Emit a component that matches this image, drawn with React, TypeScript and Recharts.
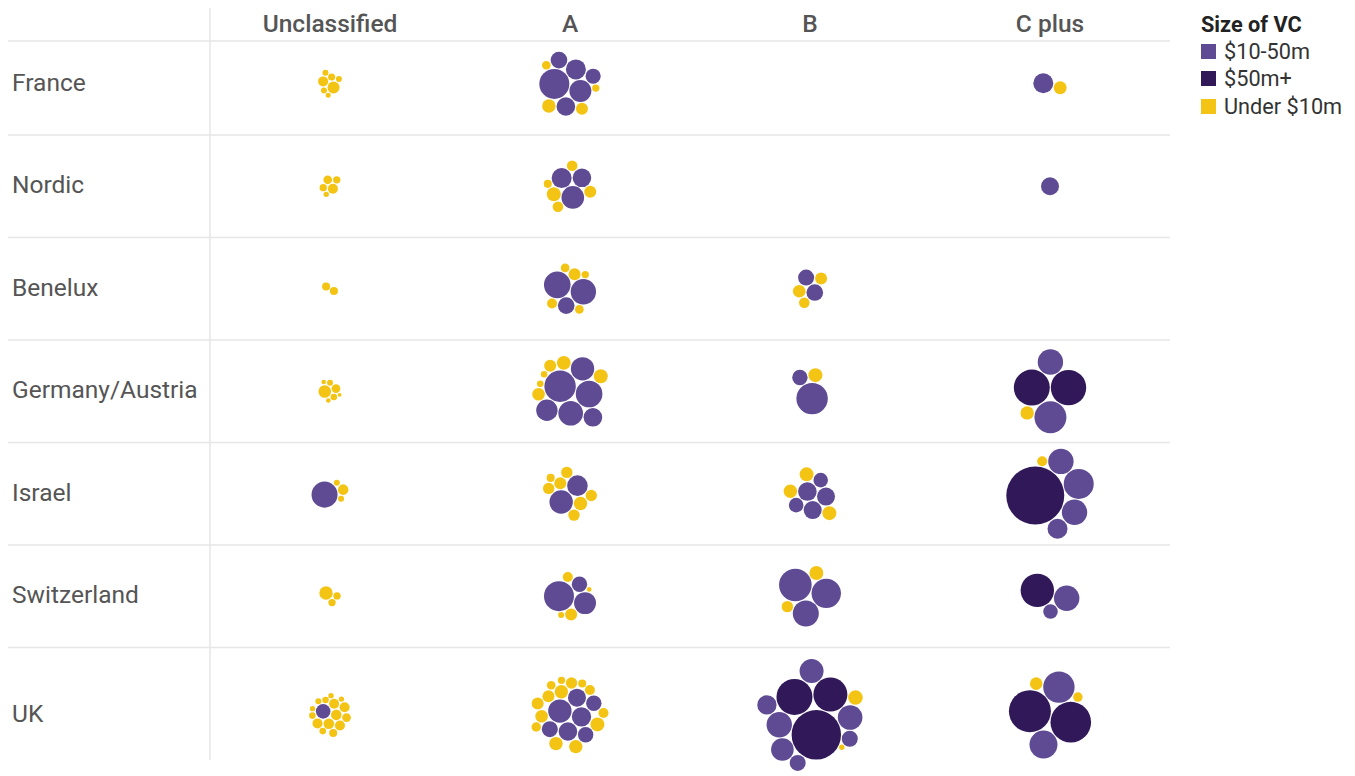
import React from "react";
import {
  ScatterChart,
  Scatter,
  XAxis,
  YAxis,
  ReferenceLine,
  Legend,
} from "recharts";

const ROWS = ["France", "Nordic", "Benelux", "Germany/Austria", "Israel", "Switzerland", "UK"];
const STAGES = ["Unclassified", "A", "B", "C plus"];
const BANDS = ["$10-50m", "$50m+", "Under $10m"];
const BAND_COLORS = ["#5f4a94", "#301859", "#f4c414"];

// amounts raised ($m), one list per row × stage
const midFunds: number[][][] = [
  [[], [25, 13.4, 11.1, 9.6, 7.7, 6.3], [], [11.1]],
  [[], [14.2, 11.1, 9.6], [], [9]],
  [[], [19.7, 17.9, 7.7], [7.7, 7.1], []],
  [[], [27.4, 19.7, 16.8, 15.2, 12.7, 9.6], [27.4, 6.6], [28.4, 17.9]],
  [[18.8], [15.2, 11.8], [9.6, 9, 9, 5.9, 5.9], [25, 17.9, 17.9, 11.1]],
  [[], [25, 13.4, 6.6], [29.5, 24, 18.8], [17.9, 5.9]],
  [[5.9], [15.2, 10.4, 9.6, 9, 7.1, 6.6, 6.6], [17.9, 16.8, 16, 14.2, 10.4, 7.1, 7.1], [27.4, 21.8]],
];

const largeFunds: number[][][] = [
  [[], [], [], []],
  [[], [], [], []],
  [[], [], [], []],
  [[], [], [], [36, 34.8]],
  [[], [], [], [93.4]],
  [[], [], [], [31]],
  [[], [], [67.8, 36, 32.1], [49, 45.8]],
];

const smallFunds: number[][][] = [
  [[4, 2.8, 1.4, 1, 1, 1, 0.7], [5, 4, 2.1, 1.5], [], [4.7]],
  [[2.8, 2.1, 1.5, 1.5, 0.8], [5.4, 4, 3.1, 3.1, 1.8], [], []],
  [[1.8, 1.8], [4, 2.8, 2.1, 2.1, 1.5], [4.4, 4, 3.1], []],
  [[4.4, 2.1, 1.2, 1, 0.6, 0.6, 0.4], [5.4, 5.4, 4.4, 4, 1.2, 1.2], [5.4], [5]],
  [[3.1, 1, 1], [5, 4, 3.6, 3.6, 3.6, 3.6, 1.8], [5.4, 5.4, 5], [2.8]],
  [[5, 1.5, 1.5], [4, 2.8, 1, 0.6], [5.4, 3.6], []],
  [
    [3.1, 3.1, 2.8, 2.8, 2.8, 2.8, 2.1, 1.8, 1.2, 1.2, 1.2, 1, 0.8, 0.8, 0.8],
    [5.4, 5, 5, 5, 4.4, 4, 4, 3.6, 2.8, 2.8, 2.5, 2.1, 1.8, 1.5],
    [5.9, 0.8],
    [4.4, 2.5],
  ],
];

const BAND_VALUES = [midFunds, largeFunds, smallFunds];

// layout
const WIDTH = 1355;
const HEIGHT = 776;
const TOP = 8;
const LEFT = 8;
const LABEL_COL = 202; // px before the first stage column
const COL_PX = 240;
const HEADER_H = 24.5;
const HEADER_LINE = 33;
const ROW_HEIGHTS = [102.5, 102.5, 102.5, 102.5, 102.5, 102.5, 135];
const FONT = "Roboto, 'Noto Sans', sans-serif";

const rowStarts: number[] = [];
ROW_HEIGHTS.reduce((acc, h) => {
  rowStarts.push(acc);
  return acc + h;
}, HEADER_H);
const rowCenters = rowStarts.map((s, i) => s + ROW_HEIGHTS[i] / 2);

const radiusOf = (v: number) => 3 * Math.sqrt(v);

// greedy circle packing: biggest first, each next one at the tangent spot
// closest to the weighted centre of what is already placed
function packCircles(radii: number[], pad = 1) {
  const order = radii.map((_, i) => i).sort((a, b) => radii[b] - radii[a]);
  const placed: { x: number; y: number; r: number; i: number }[] = [];
  for (const i of order) {
    const r = radii[i];
    if (!placed.length) {
      placed.push({ x: 0, y: 0, r, i });
      continue;
    }
    let sw = 0, sx = 0, sy = 0;
    placed.forEach((p) => {
      const w = p.r * p.r;
      sw += w;
      sx += p.x * w;
      sy += p.y * w;
    });
    const cx = sx / sw;
    const cy = sy / sw;
    const cands: { x: number; y: number }[] = [];
    placed.forEach((a) => {
      const d = a.r + r + pad;
      for (let k = 0; k < 24; k++) {
        const t = (k * Math.PI * 2) / 24;
        cands.push({ x: a.x + d * Math.cos(t), y: a.y + d * Math.sin(t) });
      }
    });
    for (let m = 0; m < placed.length; m++) {
      for (let n = m + 1; n < placed.length; n++) {
        const a = placed[m];
        const b = placed[n];
        const da = a.r + r + pad;
        const db = b.r + r + pad;
        const dx = b.x - a.x;
        const dy = b.y - a.y;
        const d = Math.hypot(dx, dy);
        if (d === 0 || d > da + db || d < Math.abs(da - db)) continue;
        const l = (da * da - db * db + d * d) / (2 * d);
        const h = Math.sqrt(Math.max(0, da * da - l * l));
        const mx = a.x + (l * dx) / d;
        const my = a.y + (l * dy) / d;
        cands.push({ x: mx - (h * dy) / d, y: my + (h * dx) / d });
        cands.push({ x: mx + (h * dy) / d, y: my - (h * dx) / d });
      }
    }
    let best = cands[0];
    let bestD = Infinity;
    cands.forEach((c) => {
      const ok = placed.every((p) => Math.hypot(c.x - p.x, c.y - p.y) >= p.r + r + pad - 1e-6);
      if (!ok) return;
      const dd = Math.hypot(c.x - cx, c.y - cy);
      if (dd < bestD) {
        bestD = dd;
        best = c;
      }
    });
    placed.push({ x: best.x, y: best.y, r, i });
  }
  let x0 = Infinity, x1 = -Infinity, y0 = Infinity, y1 = -Infinity;
  placed.forEach((p) => {
    x0 = Math.min(x0, p.x - p.r);
    x1 = Math.max(x1, p.x + p.r);
    y0 = Math.min(y0, p.y - p.r);
    y1 = Math.max(y1, p.y + p.r);
  });
  const ox = (x0 + x1) / 2;
  const oy = (y0 + y1) / 2;
  const out: { x: number; y: number }[] = [];
  placed.forEach((p) => (out[p.i] = { x: p.x - ox, y: p.y - oy }));
  return out;
}

type Bubble = { x: number; y: number; r: number; value: number; row: string; stage: string };

const seriesData: Bubble[][] = BANDS.map(() => []);
ROWS.forEach((row, ri) => {
  STAGES.forEach((stage, si) => {
    const items: { band: number; value: number }[] = [];
    BAND_VALUES.forEach((m, bi) => m[ri][si].forEach((v) => items.push({ band: bi, value: v })));
    if (!items.length) return;
    const radii = items.map((it) => radiusOf(it.value));
    const pos = packCircles(radii);
    items.forEach((it, k) => {
      seriesData[it.band].push({
        x: si + 0.5 + pos[k].x / COL_PX,
        y: rowCenters[ri] + pos[k].y,
        r: radii[k],
        value: it.value,
        row,
        stage,
      });
    });
  });
});

const rowLines = [HEADER_LINE, ...rowStarts.slice(1)];

const StageTick = (props: any) => {
  const idx = Math.round(props.payload.value - 0.5);
  return (
    <text x={props.x} y={32} textAnchor="middle" fill="#555" fontSize={24.5} fontWeight={500} fontFamily={FONT}>
      {STAGES[idx]}
    </text>
  );
};

const RowTick = (props: any) => {
  const idx = rowCenters.findIndex((c) => Math.abs(c - props.payload.value) < 0.01);
  return (
    <text x={12} y={props.y} dy="0.28em" textAnchor="start" fill="#555" fontSize={24.5} fontFamily={FONT}>
      {ROWS[idx]}
    </text>
  );
};

const LegendBox = () => (
  <div style={{ fontFamily: FONT, whiteSpace: "nowrap", color: "#333", width: 160 }}>
    <div style={{ fontWeight: 700, fontSize: 21.7, color: "#222", lineHeight: "27px" }}>Size of VC</div>
    {BANDS.map((b, i) => (
      <div key={b} style={{ display: "flex", alignItems: "center", fontSize: 21.7, lineHeight: "27.3px" }}>
        <span
          style={{
            width: 15,
            height: 15,
            flexShrink: 0,
            background: BAND_COLORS[i],
            marginRight: 8,
            display: "inline-block",
          }}
        />
        {b}
      </div>
    ))}
  </div>
);

export default function App() {
  return (
    <div style={{ position: "absolute", left: 0, top: 0, width: WIDTH, height: HEIGHT, background: "#fff" }}>
      <ScatterChart
        width={WIDTH}
        height={HEIGHT}
        margin={{ top: TOP - 1, left: LEFT - 1, right: WIDTH - (LEFT + LABEL_COL + COL_PX * 4), bottom: 0 }}
      >
        <XAxis
          type="number"
          dataKey="x"
          orientation="top"
          height={1}
          domain={[-LABEL_COL / COL_PX, STAGES.length]}
          ticks={STAGES.map((_, i) => i + 0.5)}
          interval={0}
          axisLine={false}
          tickLine={false}
          tick={<StageTick />}
        />
        <YAxis
          type="number"
          dataKey="y"
          width={1}
          reversed
          domain={[0, HEIGHT - TOP]}
          ticks={rowCenters}
          interval={0}
          axisLine={false}
          tickLine={false}
          tick={<RowTick />}
        />
        {rowLines.map((y) => (
          <ReferenceLine key={y} y={y} stroke="#e6e6e6" strokeWidth={1.5} ifOverflow="visible" />
        ))}
        <ReferenceLine
          segment={[
            { x: 0, y: 0 },
            { x: 0, y: 752 },
          ]}
          stroke="#e6e6e6"
          strokeWidth={1.5}
          ifOverflow="visible"
        />
        {BANDS.map((b, i) => (
          <Scatter
            key={b}
            name={b}
            data={seriesData[i]}
            fill={BAND_COLORS[i]}
            isAnimationActive={false}
            shape={(p: any) => <circle cx={p.cx} cy={p.cy} r={p.payload.r} fill={BAND_COLORS[i]} />}
          />
        ))}
        <Legend
          content={<LegendBox />}
          wrapperStyle={{ position: "absolute", left: 1201, top: 11, width: 0, height: 0, overflow: "visible" }}
        />
      </ScatterChart>
    </div>
  );
}
